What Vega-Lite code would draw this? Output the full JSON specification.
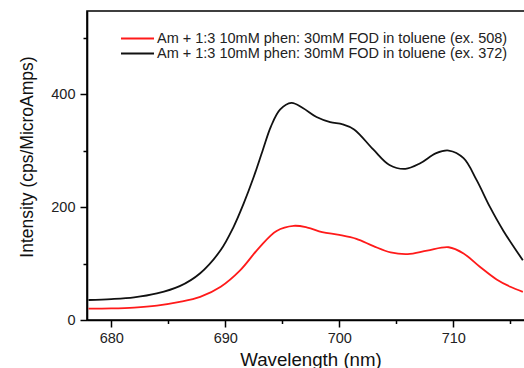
{
  "$schema": "https://vega.github.io/schema/vega-lite/v6.json",
  "width": 438,
  "height": 309,
  "autosize": {"type": "none"},
  "padding": {"left": 87, "top": 11, "right": 0, "bottom": 48},
  "background": "white",
  "config": {
    "font": "Liberation Sans",
    "view": {"stroke": "#000", "strokeWidth": 1.6},
    "axis": {"grid": false, "domainColor": "#000", "domainWidth": 1.6, "tickColor": "#000", "tickWidth": 1.5, "labelFont": "Liberation Sans", "titleFont": "Liberation Sans", "labelFontSize": 14.5, "labelColor": "#222", "titleColor": "#111", "titleFontWeight": "normal"}
  },
  "datasets": {
    "spectra": [
      {"wavelength": 678.0, "intensity": 35.5, "series": "Am + 1:3 10mM phen: 30mM FOD in toluene (ex. 372)"},
      {"wavelength": 680.0, "intensity": 37, "series": "Am + 1:3 10mM phen: 30mM FOD in toluene (ex. 372)"},
      {"wavelength": 682.0, "intensity": 40, "series": "Am + 1:3 10mM phen: 30mM FOD in toluene (ex. 372)"},
      {"wavelength": 684.0, "intensity": 47, "series": "Am + 1:3 10mM phen: 30mM FOD in toluene (ex. 372)"},
      {"wavelength": 686.0, "intensity": 60, "series": "Am + 1:3 10mM phen: 30mM FOD in toluene (ex. 372)"},
      {"wavelength": 687.8, "intensity": 83, "series": "Am + 1:3 10mM phen: 30mM FOD in toluene (ex. 372)"},
      {"wavelength": 689.6, "intensity": 124, "series": "Am + 1:3 10mM phen: 30mM FOD in toluene (ex. 372)"},
      {"wavelength": 690.7, "intensity": 164, "series": "Am + 1:3 10mM phen: 30mM FOD in toluene (ex. 372)"},
      {"wavelength": 691.6, "intensity": 206, "series": "Am + 1:3 10mM phen: 30mM FOD in toluene (ex. 372)"},
      {"wavelength": 692.5, "intensity": 254, "series": "Am + 1:3 10mM phen: 30mM FOD in toluene (ex. 372)"},
      {"wavelength": 693.3, "intensity": 302, "series": "Am + 1:3 10mM phen: 30mM FOD in toluene (ex. 372)"},
      {"wavelength": 694.0, "intensity": 343, "series": "Am + 1:3 10mM phen: 30mM FOD in toluene (ex. 372)"},
      {"wavelength": 694.8, "intensity": 373, "series": "Am + 1:3 10mM phen: 30mM FOD in toluene (ex. 372)"},
      {"wavelength": 695.8, "intensity": 385, "series": "Am + 1:3 10mM phen: 30mM FOD in toluene (ex. 372)"},
      {"wavelength": 696.8, "intensity": 376, "series": "Am + 1:3 10mM phen: 30mM FOD in toluene (ex. 372)"},
      {"wavelength": 698.0, "intensity": 360, "series": "Am + 1:3 10mM phen: 30mM FOD in toluene (ex. 372)"},
      {"wavelength": 699.2, "intensity": 351, "series": "Am + 1:3 10mM phen: 30mM FOD in toluene (ex. 372)"},
      {"wavelength": 700.3, "intensity": 347, "series": "Am + 1:3 10mM phen: 30mM FOD in toluene (ex. 372)"},
      {"wavelength": 701.3, "intensity": 338, "series": "Am + 1:3 10mM phen: 30mM FOD in toluene (ex. 372)"},
      {"wavelength": 703.0, "intensity": 302, "series": "Am + 1:3 10mM phen: 30mM FOD in toluene (ex. 372)"},
      {"wavelength": 704.4, "intensity": 275, "series": "Am + 1:3 10mM phen: 30mM FOD in toluene (ex. 372)"},
      {"wavelength": 705.8, "intensity": 268, "series": "Am + 1:3 10mM phen: 30mM FOD in toluene (ex. 372)"},
      {"wavelength": 707.1, "intensity": 278, "series": "Am + 1:3 10mM phen: 30mM FOD in toluene (ex. 372)"},
      {"wavelength": 708.5, "intensity": 296, "series": "Am + 1:3 10mM phen: 30mM FOD in toluene (ex. 372)"},
      {"wavelength": 709.6, "intensity": 300.5, "series": "Am + 1:3 10mM phen: 30mM FOD in toluene (ex. 372)"},
      {"wavelength": 710.9, "intensity": 287, "series": "Am + 1:3 10mM phen: 30mM FOD in toluene (ex. 372)"},
      {"wavelength": 712.05, "intensity": 248, "series": "Am + 1:3 10mM phen: 30mM FOD in toluene (ex. 372)"},
      {"wavelength": 713.2, "intensity": 201, "series": "Am + 1:3 10mM phen: 30mM FOD in toluene (ex. 372)"},
      {"wavelength": 714.4, "intensity": 158, "series": "Am + 1:3 10mM phen: 30mM FOD in toluene (ex. 372)"},
      {"wavelength": 716.1, "intensity": 106, "series": "Am + 1:3 10mM phen: 30mM FOD in toluene (ex. 372)"},
      {"wavelength": 678.0, "intensity": 20, "series": "Am + 1:3 10mM phen: 30mM FOD in toluene (ex. 508)"},
      {"wavelength": 680.0, "intensity": 20.5, "series": "Am + 1:3 10mM phen: 30mM FOD in toluene (ex. 508)"},
      {"wavelength": 682.0, "intensity": 22, "series": "Am + 1:3 10mM phen: 30mM FOD in toluene (ex. 508)"},
      {"wavelength": 684.0, "intensity": 25.5, "series": "Am + 1:3 10mM phen: 30mM FOD in toluene (ex. 508)"},
      {"wavelength": 686.0, "intensity": 32, "series": "Am + 1:3 10mM phen: 30mM FOD in toluene (ex. 508)"},
      {"wavelength": 687.8, "intensity": 41, "series": "Am + 1:3 10mM phen: 30mM FOD in toluene (ex. 508)"},
      {"wavelength": 689.6, "intensity": 59, "series": "Am + 1:3 10mM phen: 30mM FOD in toluene (ex. 508)"},
      {"wavelength": 691.3, "intensity": 88, "series": "Am + 1:3 10mM phen: 30mM FOD in toluene (ex. 508)"},
      {"wavelength": 693.0, "intensity": 129, "series": "Am + 1:3 10mM phen: 30mM FOD in toluene (ex. 508)"},
      {"wavelength": 694.5, "intensity": 158, "series": "Am + 1:3 10mM phen: 30mM FOD in toluene (ex. 508)"},
      {"wavelength": 696.0, "intensity": 167, "series": "Am + 1:3 10mM phen: 30mM FOD in toluene (ex. 508)"},
      {"wavelength": 697.2, "intensity": 164, "series": "Am + 1:3 10mM phen: 30mM FOD in toluene (ex. 508)"},
      {"wavelength": 698.5, "intensity": 156, "series": "Am + 1:3 10mM phen: 30mM FOD in toluene (ex. 508)"},
      {"wavelength": 700.0, "intensity": 151, "series": "Am + 1:3 10mM phen: 30mM FOD in toluene (ex. 508)"},
      {"wavelength": 701.5, "intensity": 144, "series": "Am + 1:3 10mM phen: 30mM FOD in toluene (ex. 508)"},
      {"wavelength": 703.0, "intensity": 131, "series": "Am + 1:3 10mM phen: 30mM FOD in toluene (ex. 508)"},
      {"wavelength": 704.5, "intensity": 120, "series": "Am + 1:3 10mM phen: 30mM FOD in toluene (ex. 508)"},
      {"wavelength": 706.0, "intensity": 117, "series": "Am + 1:3 10mM phen: 30mM FOD in toluene (ex. 508)"},
      {"wavelength": 707.7, "intensity": 123, "series": "Am + 1:3 10mM phen: 30mM FOD in toluene (ex. 508)"},
      {"wavelength": 709.6, "intensity": 129, "series": "Am + 1:3 10mM phen: 30mM FOD in toluene (ex. 508)"},
      {"wavelength": 710.9, "intensity": 118, "series": "Am + 1:3 10mM phen: 30mM FOD in toluene (ex. 508)"},
      {"wavelength": 712.3, "intensity": 95, "series": "Am + 1:3 10mM phen: 30mM FOD in toluene (ex. 508)"},
      {"wavelength": 713.8, "intensity": 72, "series": "Am + 1:3 10mM phen: 30mM FOD in toluene (ex. 508)"},
      {"wavelength": 715.0, "intensity": 59, "series": "Am + 1:3 10mM phen: 30mM FOD in toluene (ex. 508)"},
      {"wavelength": 716.1, "intensity": 50, "series": "Am + 1:3 10mM phen: 30mM FOD in toluene (ex. 508)"}
    ]
  },
  "data": {"name": "spectra"},
  "layer": [
    {
      "mark": {"type": "line", "strokeWidth": 1.8, "interpolate": "catmull-rom", "clip": true},
      "encoding": {
        "x": {"field": "wavelength", "type": "quantitative",
              "scale": {"domain": [677.87, 716.29], "nice": false, "zero": false},
              "axis": {"values": [680, 690, 700, 710], "title": "Wavelength (nm)", "titleFontSize": 18.7, "tickSize": 7, "labelPadding": 4, "titlePadding": 5.5, "titleX": 223.5}},
        "y": {"field": "intensity", "type": "quantitative",
              "scale": {"domain": [0, 548], "nice": false},
              "axis": {"values": [0, 200, 400], "title": "Intensity (cps/MicroAmps)", "titleFontSize": 17.5, "tickSize": 7, "labelPadding": 5, "titlePadding": 14, "titleY": 145.5}},
        "color": {"field": "series", "type": "nominal",
                  "scale": {"domain": ["Am + 1:3 10mM phen: 30mM FOD in toluene (ex. 508)", "Am + 1:3 10mM phen: 30mM FOD in toluene (ex. 372)"], "range": ["#ff1a1a", "#111111"]},
                  "legend": {"title": null, "orient": "none", "legendX": 33, "legendY": 20, "padding": 0, "symbolType": "stroke", "symbolSize": 1089, "symbolStrokeWidth": 1.8, "clipHeight": 15, "rowPadding": -5, "labelOffset": 2, "labelFontSize": 14.5, "labelColor": "#222", "labelFont": "Liberation Sans", "labelLimit": 0}}
      }
    },
    {
      "mark": {"type": "point", "opacity": 0},
      "encoding": {
        "x": {"field": "wavelength", "type": "quantitative",
              "axis": {"orient": "bottom", "values": [685, 695, 705, 715], "labels": false, "domain": false, "tickSize": 3.5, "title": null}},
        "y": {"field": "intensity", "type": "quantitative",
              "axis": {"orient": "left", "values": [100, 300, 500], "labels": false, "domain": false, "tickSize": 4, "title": null}}
      }
    }
  ],
  "resolve": {"axis": {"x": "independent", "y": "independent"}}
}
